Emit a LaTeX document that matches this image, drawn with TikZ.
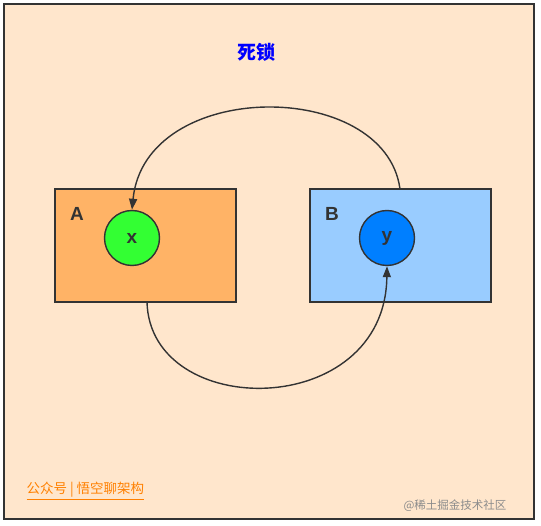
\documentclass[tikz,border=0pt]{standalone}
\usepackage{fontspec}
\setmainfont{Liberation Sans}
\newfontfamily\cjk{Noto Sans CJK SC}
\usetikzlibrary{arrows.meta}
\definecolor{bg}{HTML}{FFE6CC}
\definecolor{boxa}{HTML}{FFB366}
\definecolor{boxb}{HTML}{99CCFF}
\definecolor{cx}{HTML}{33FF33}
\definecolor{cy}{HTML}{007FFF}
\definecolor{ink}{HTML}{333333}
\definecolor{ttl}{HTML}{0000FF}
\definecolor{org}{HTML}{FF8000}
\begin{document}
\begin{tikzpicture}[x=1pt,y=-1pt,
  frame/.style={draw=ink,line width=1.6pt,fill=bg},
  procbox/.style={draw=ink,line width=1.5pt,minimum width=181pt,minimum height=113pt,inner sep=0pt},
  res/.style={circle,draw=ink,line width=1.4pt,minimum size=55pt,inner sep=0pt,font=\fontsize{19}{19}\selectfont\bfseries,text=ink},
  lbl/.style={font=\fontsize{19}{19}\selectfont\bfseries,text=ink},
  conn/.style={draw=ink,line width=1.4pt,-{Triangle[length=11pt,width=8pt]}}]
\useasboundingbox (0,0) rectangle (541,526);
\path[frame] (4,4) rectangle (534,519);
\node[font=\cjk\bfseries\fontsize{19}{19}\selectfont,text=ttl] (title) at (256,52) {死锁};
\node[procbox,fill=boxa] (A) at (145.5,245.5) {};
\node[procbox,fill=boxb] (B) at (400.5,245.5) {};
\node[lbl] (la) at (77,214) {A};
\node[lbl] (lb) at (332,214) {B};
\node[res,fill=cx] (x) at (132,238) {x};
\node[res,fill=cy] (y) at (387,238) {y};
\coordinate (btop) at (400,189);
\coordinate (abot) at (147,302);
\draw[conn] (btop) .. controls (385,78) and (145,78) .. (x.north);
\draw[conn] (abot) .. controls (150,421) and (385,421) .. (y.south);
\node[font=\cjk\fontsize{13.5}{13.5}\selectfont,text=org,anchor=west] (pub) at (23,491) {\underline{公众号 | 悟空聊架构}};
\node[font=\cjk\fontsize{11.5}{11.5}\selectfont,text=black!45,anchor=east] (wm) at (510,506) {@稀土掘金技术社区};
\end{tikzpicture}
\end{document}
